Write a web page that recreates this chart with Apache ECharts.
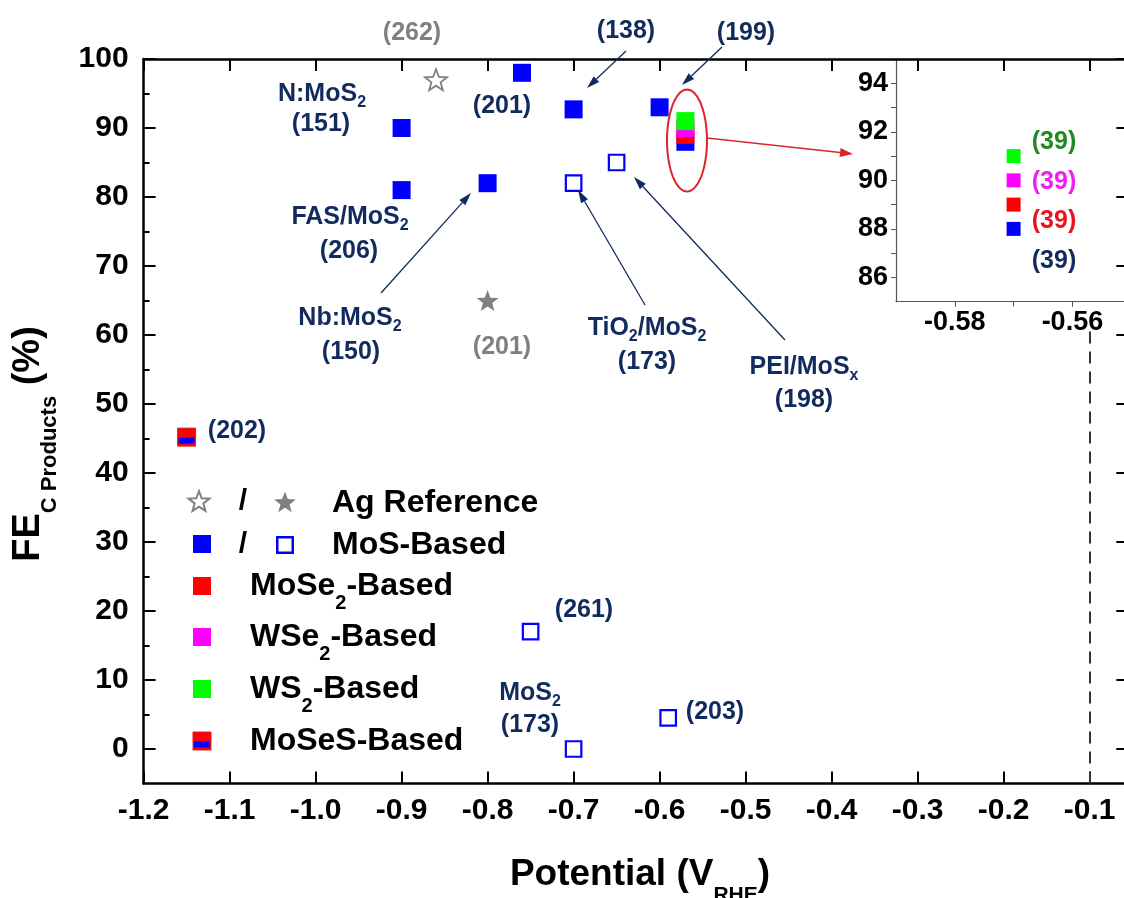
<!DOCTYPE html>
<html>
<head>
<meta charset="utf-8">
<title>FE vs Potential</title>
<script src="https://cdn.jsdelivr.net/npm/echarts@6/dist/echarts.min.js"></script>
<style>
  html, body { margin: 0; padding: 0; background: #fff; }
  #chart { width: 1124px; height: 898px; }
</style>
</head>
<body>
<div id="chart"></div>
<script>
// ---- data ----
// MoS-based, filled / open squares
const mosFilledX = [-0.9, -0.9, -0.8, -0.76, -0.7, -0.6]
const mosFilledY = [90, 81, 82, 98, 92.7, 93]
const mosOpenX = [-0.7, -0.65, -0.75, -0.7, -0.59]
const mosOpenY = [82, 85, 17, 0, 4.5]
// Ag reference, open / filled stars
const agOpenX = [-0.86]
const agOpenY = [97]
const agFilledX = [-0.8]
const agFilledY = [65]
// MoSeS-based
const mosesX = [-1.15]
const mosesY = [45.2]
// ref (39): four materials at one potential
const ref39X = [-0.57]
const ref39MoS = [88]
const ref39MoSe2 = [89]
const ref39WSe2 = [90]
const ref39WS2 = [91]
// dashed reference line
const refLineX = [-0.1]
const refLineY = [-5, 61]

// ---- ticks ----
const xTicks = [-1.2, -1.1, -1.0, -0.9, -0.8, -0.7, -0.6, -0.5, -0.4, -0.3, -0.2, -0.1]
const yMajor = [0, 10, 20, 30, 40, 50, 60, 70, 80, 90, 100]
const yMinor = [5, 15, 25, 35, 45, 55, 65, 75, 85, 95]
const insetXTicks = [-0.58, -0.57, -0.56]
const insetXLabels = [-0.58, -0.56]
const insetYTicks = [86, 87, 88, 89, 90, 91, 92, 93, 94]
const insetYLabels = [86, 88, 90, 92, 94]

// ---- styles ----
const FONT = '"Liberation Sans", Arial, sans-serif'
const NAVY = '#112b5f'
const GRAY = '#808080'
const BLUE = '#0000ff'
const RED = '#ff0000'
const MAGENTA = '#ff00ff'
const GREEN = '#00ff00'

// 5-point star outline
const starPoints = (cx, cy, R, r) => {
  const pts = []
  for (let i = 0; i < 10; i++) {
    const a = -Math.PI / 2 + i * Math.PI / 5
    const rad = i % 2 === 0 ? R : r
    pts.push([cx + rad * Math.cos(a), cy + rad * Math.sin(a)])
  }
  return pts
}
const starPath = 'path://M' + starPoints(50, 50, 50, 21).map(p => p[0].toFixed(2) + ',' + p[1].toFixed(2)).join('L') + 'Z'

const zip = (xs, ys) => xs.map((x, i) => [x, ys[i]])

// scatter series helper
const scatter = (xs, ys, opt) => ({
  type: 'scatter',
  xAxisIndex: opt.inset ? 2 : 0,
  yAxisIndex: opt.inset ? 3 : 0,
  data: zip(xs, ys),
  symbol: opt.symbol || 'rect',
  symbolSize: opt.size || 18,
  symbolOffset: opt.offset || [0, 0],
  symbolKeepAspect: true,
  itemStyle: Object.assign({ opacity: 1 }, opt.style),
  emphasis: { disabled: true },
  silent: true
})

// text with {s|subscript}
const label = (x, y, text, opt) => {
  opt = opt || {}
  const size = opt.size || 25
  const color = opt.color || NAVY
  const subSize = opt.subSize || 16
  const drop = opt.drop || 9
  const align = opt.align || 'center'
  return {
    type: 'text', x, y, rotation: opt.rotation || 0, z: 100, silent: true,
    style: {
      text, fill: color, fontSize: size, fontWeight: 'bold', fontFamily: FONT,
      align, textAlign: align, verticalAlign: 'middle', textVerticalAlign: 'middle',
      rich: {
        s: { fontSize: subSize, fontWeight: 'bold', fontFamily: FONT, fill: color, padding: [drop * 2, 0, 0, 0] }
      }
    }
  }
}

// line with a triangular head at (x2, y2)
const arrow = (x1, y1, x2, y2, color, width, headLen, headW) => {
  const a = Math.atan2(y2 - y1, x2 - x1)
  const bx = x2 - headLen * Math.cos(a)
  const by = y2 - headLen * Math.sin(a)
  const nx = -Math.sin(a) * headW / 2
  const ny = Math.cos(a) * headW / 2
  return [
    { type: 'line', z: 100, silent: true, shape: { x1, y1, x2: bx, y2: by }, style: { stroke: color, lineWidth: width } },
    { type: 'polygon', z: 100, silent: true, shape: { points: [[x2, y2], [bx + nx, by + ny], [bx - nx, by - ny]] }, style: { fill: color } }
  ]
}

const ellipsePoints = (cx, cy, rx, ry) => {
  const pts = []
  for (let i = 0; i < 72; i++) {
    const t = i / 72 * Math.PI * 2
    pts.push([cx + rx * Math.cos(t), cy + ry * Math.sin(t)])
  }
  return pts
}

const sqRect = (cx, cy, size, style) => ({
  type: 'rect', z: 100, silent: true,
  shape: { x: cx - size / 2, y: cy - size / 2, width: size, height: size },
  style
})

// ---- annotations ----
const graphics = [
  label(412, 33, '(262)', { color: GRAY }),
  label(322, 94, 'N:MoS{s|2}'),
  label(321, 124, '(151)'),
  label(502, 106, '(201)'),
  label(626, 31, '(138)'),
  label(746, 33, '(199)'),
  label(350, 217, 'FAS/MoS{s|2}'),
  label(349, 251, '(206)'),
  label(350, 318, 'Nb:MoS{s|2}'),
  label(351, 352, '(150)'),
  label(502, 347, '(201)', { color: GRAY }),
  label(647, 328, 'TiO{s|2}/MoS{s|2}'),
  label(647, 362, '(173)'),
  label(804, 367, 'PEI/MoS{s|x}'),
  label(804, 400, '(198)'),
  label(237, 431, '(202)'),
  label(584, 610, '(261)'),
  label(530, 693, 'MoS{s|2}'),
  label(530, 725, '(173)'),
  label(715, 712, '(203)'),
  label(1054, 142, '(39)', { color: '#1f8a1f' }),
  label(1054, 182, '(39)', { color: '#f01ef0' }),
  label(1054, 221, '(39)', { color: '#e8141e' }),
  label(1054, 261, '(39)'),
  // axis titles
  label(640, 875, 'Potential (V{s|RHE})', { size: 37, color: '#000', subSize: 21, drop: 20 }),
  label(29, 444, 'FE{s|C Products} (%)', { size: 38, color: '#000', subSize: 22, drop: 21, rotation: Math.PI / 2 }),
  // red ellipse around ref (39)
  {
    type: 'polygon', z: 100, silent: true,
    shape: { points: ellipsePoints(687, 140.5, 20, 51) },
    style: { fill: 'none', stroke: '#d9262b', lineWidth: 2 }
  },
  // legend
  { type: 'polygon', z: 100, silent: true, shape: { points: starPoints(199, 502, 11, 4.6) }, style: { fill: '#fff', stroke: GRAY, lineWidth: 2 } },
  { type: 'polygon', z: 100, silent: true, shape: { points: starPoints(285, 503, 11.5, 4.8) }, style: { fill: GRAY } },
  sqRect(202, 544, 18, { fill: BLUE }),
  sqRect(285, 545, 15.5, { fill: '#fff', stroke: BLUE, lineWidth: 2.5 }),
  sqRect(202, 586, 18, { fill: RED }),
  sqRect(202, 637, 18, { fill: MAGENTA }),
  sqRect(202, 689, 18, { fill: GREEN }),
  sqRect(202, 741, 18, { fill: RED, stroke: '#d02828', lineWidth: 1 }),
  { type: 'rect', z: 101, silent: true, shape: { x: 194, y: 741.5, width: 16, height: 6 }, style: { fill: BLUE } },
  label(243, 502, '/', { size: 30, color: '#000' }),
  label(243, 545, '/', { size: 30, color: '#000' }),
  label(332, 503, 'Ag Reference', { size: 32, color: '#000', align: 'left' }),
  label(332, 545, 'MoS-Based', { size: 32, color: '#000', align: 'left' }),
  label(250, 586, 'MoSe{s|2}-Based', { size: 32, color: '#000', align: 'left', subSize: 20, drop: 17 }),
  label(250, 637, 'WSe{s|2}-Based', { size: 32, color: '#000', align: 'left', subSize: 20, drop: 17 }),
  label(250, 689, 'WS{s|2}-Based', { size: 32, color: '#000', align: 'left', subSize: 20, drop: 17 }),
  label(250, 741, 'MoSeS-Based', { size: 32, color: '#000', align: 'left' })
]
  .concat(arrow(381, 293, 471, 193, NAVY, 1.3, 13, 8))
  .concat(arrow(626, 51, 587, 88, NAVY, 1.3, 13, 8))
  .concat(arrow(722, 47, 682, 85, NAVY, 1.3, 13, 8))
  .concat(arrow(645, 305, 578, 190, NAVY, 1.3, 13, 8))
  .concat(arrow(785, 340, 634, 177, NAVY, 1.3, 13, 8))
  .concat(arrow(707, 138, 853, 154, '#d9262b', 1.5, 13, 9))

// ---- axes ----
const AXIS = { color: '#000', width: 2.5 }
const INSET_AXIS = { color: '#555', width: 1.2 }
const tickFont = { fontSize: 30, fontWeight: 'bold', fontFamily: FONT, color: '#000' }
const insetFont = { fontSize: 27, fontWeight: 'bold', fontFamily: FONT, color: '#000' }
const X_MIN = -1.2, X_MAX = -0.055
const Y_MIN = -5, Y_MAX = 100

const option = {
  animation: false,
  backgroundColor: '#fff',
  grid: [
    { left: 143.6, top: 59, width: 984.7, height: 724.5, outerBoundsMode: 'none' },
    { left: 896, top: 59, width: 235.2, height: 242.7, outerBoundsMode: 'none' }
  ],
  xAxis: [
    {
      gridIndex: 0, type: 'value', position: 'bottom', min: X_MIN, max: X_MAX,
      axisLine: { show: true, onZero: false, lineStyle: AXIS },
      axisTick: { show: true, inside: true, length: 12, customValues: xTicks, lineStyle: { color: '#000', width: 2 } },
      axisLabel: Object.assign({ show: true, margin: 12, customValues: xTicks, formatter: v => v.toFixed(1) }, tickFont),
      splitLine: { show: false }
    },
    {
      gridIndex: 0, type: 'value', position: 'top', min: X_MIN, max: X_MAX,
      axisLine: { show: true, onZero: false, lineStyle: AXIS },
      axisTick: { show: true, inside: true, length: 12, customValues: xTicks, lineStyle: { color: '#000', width: 2 } },
      axisLabel: { show: false },
      splitLine: { show: false }
    },
    {
      gridIndex: 1, type: 'value', position: 'bottom', min: -0.59, max: -0.55,
      axisLine: { show: true, onZero: false, lineStyle: INSET_AXIS },
      axisTick: { show: true, inside: false, length: 5, customValues: insetXTicks, lineStyle: { color: '#555', width: 1 } },
      axisLabel: Object.assign({ show: true, margin: 7, customValues: insetXLabels, formatter: v => v.toFixed(2) }, insetFont),
      splitLine: { show: false }
    }
  ],
  yAxis: [
    {
      gridIndex: 0, type: 'value', position: 'left', min: Y_MIN, max: Y_MAX,
      axisLine: { show: true, onZero: false, lineStyle: AXIS },
      axisTick: { show: true, inside: true, length: 12, customValues: yMajor, lineStyle: { color: '#000', width: 2 } },
      axisLabel: Object.assign({ show: true, margin: 15, customValues: yMajor }, tickFont),
      splitLine: { show: false }
    },
    {
      gridIndex: 0, type: 'value', position: 'left', min: Y_MIN, max: Y_MAX,
      axisLine: { show: false },
      axisTick: { show: true, inside: true, length: 6, customValues: yMinor, lineStyle: { color: '#000', width: 2 } },
      axisLabel: { show: false },
      splitLine: { show: false }
    },
    {
      gridIndex: 0, type: 'value', position: 'right', min: Y_MIN, max: Y_MAX,
      axisLine: { show: true, onZero: false, lineStyle: AXIS },
      axisTick: { show: true, inside: true, length: 12, customValues: yMajor, lineStyle: { color: '#000', width: 2 } },
      axisLabel: { show: false },
      splitLine: { show: false }
    },
    {
      gridIndex: 1, type: 'value', position: 'left', min: 85, max: 95,
      axisLine: { show: true, onZero: false, lineStyle: INSET_AXIS },
      axisTick: { show: true, inside: false, length: 5, customValues: insetYTicks, lineStyle: { color: '#555', width: 1 } },
      axisLabel: Object.assign({ show: true, margin: 8, customValues: insetYLabels }, insetFont),
      splitLine: { show: false }
    }
  ],
  series: [
    Object.assign(scatter(mosOpenX, mosOpenY, { size: 15.5, style: { color: '#fff', borderColor: BLUE, borderWidth: 2.2 } }), {
      markLine: {
        silent: true, symbol: ['none', 'none'], label: { show: false },
        lineStyle: { type: [12, 8], color: '#333', width: 2 },
        data: [[{ coord: [refLineX[0], refLineY[0]] }, { coord: [refLineX[0], refLineY[1]] }]]
      }
    }),
    scatter(mosFilledX, mosFilledY, { style: { color: BLUE } }),
    scatter(agOpenX, agOpenY, { symbol: starPath, size: 22, style: { color: '#fff', borderColor: GRAY, borderWidth: 1.8 } }),
    scatter(agFilledX, agFilledY, { symbol: starPath, size: 22, style: { color: GRAY } }),
    scatter(mosesX, mosesY, { style: { color: RED, borderColor: '#d02828', borderWidth: 1 } }),
    scatter(mosesX, mosesY, { size: [16, 6], offset: [0, 3.5], style: { color: BLUE } }),
    scatter(ref39X, ref39MoS, { style: { color: BLUE } }),
    scatter(ref39X, ref39MoSe2, { style: { color: RED } }),
    scatter(ref39X, ref39WSe2, { style: { color: MAGENTA } }),
    scatter(ref39X, ref39WS2, { style: { color: GREEN } }),
    // inset
    scatter(ref39X, ref39MoS, { inset: true, size: 14, style: { color: BLUE } }),
    scatter(ref39X, ref39MoSe2, { inset: true, size: 14, style: { color: RED } }),
    scatter(ref39X, ref39WSe2, { inset: true, size: 14, style: { color: MAGENTA } }),
    scatter(ref39X, ref39WS2, { inset: true, size: 14, style: { color: GREEN } })
  ],
  graphic: graphics
}

const chart = echarts.init(document.getElementById('chart'))
chart.setOption(option)
</script>
</body>
</html>
